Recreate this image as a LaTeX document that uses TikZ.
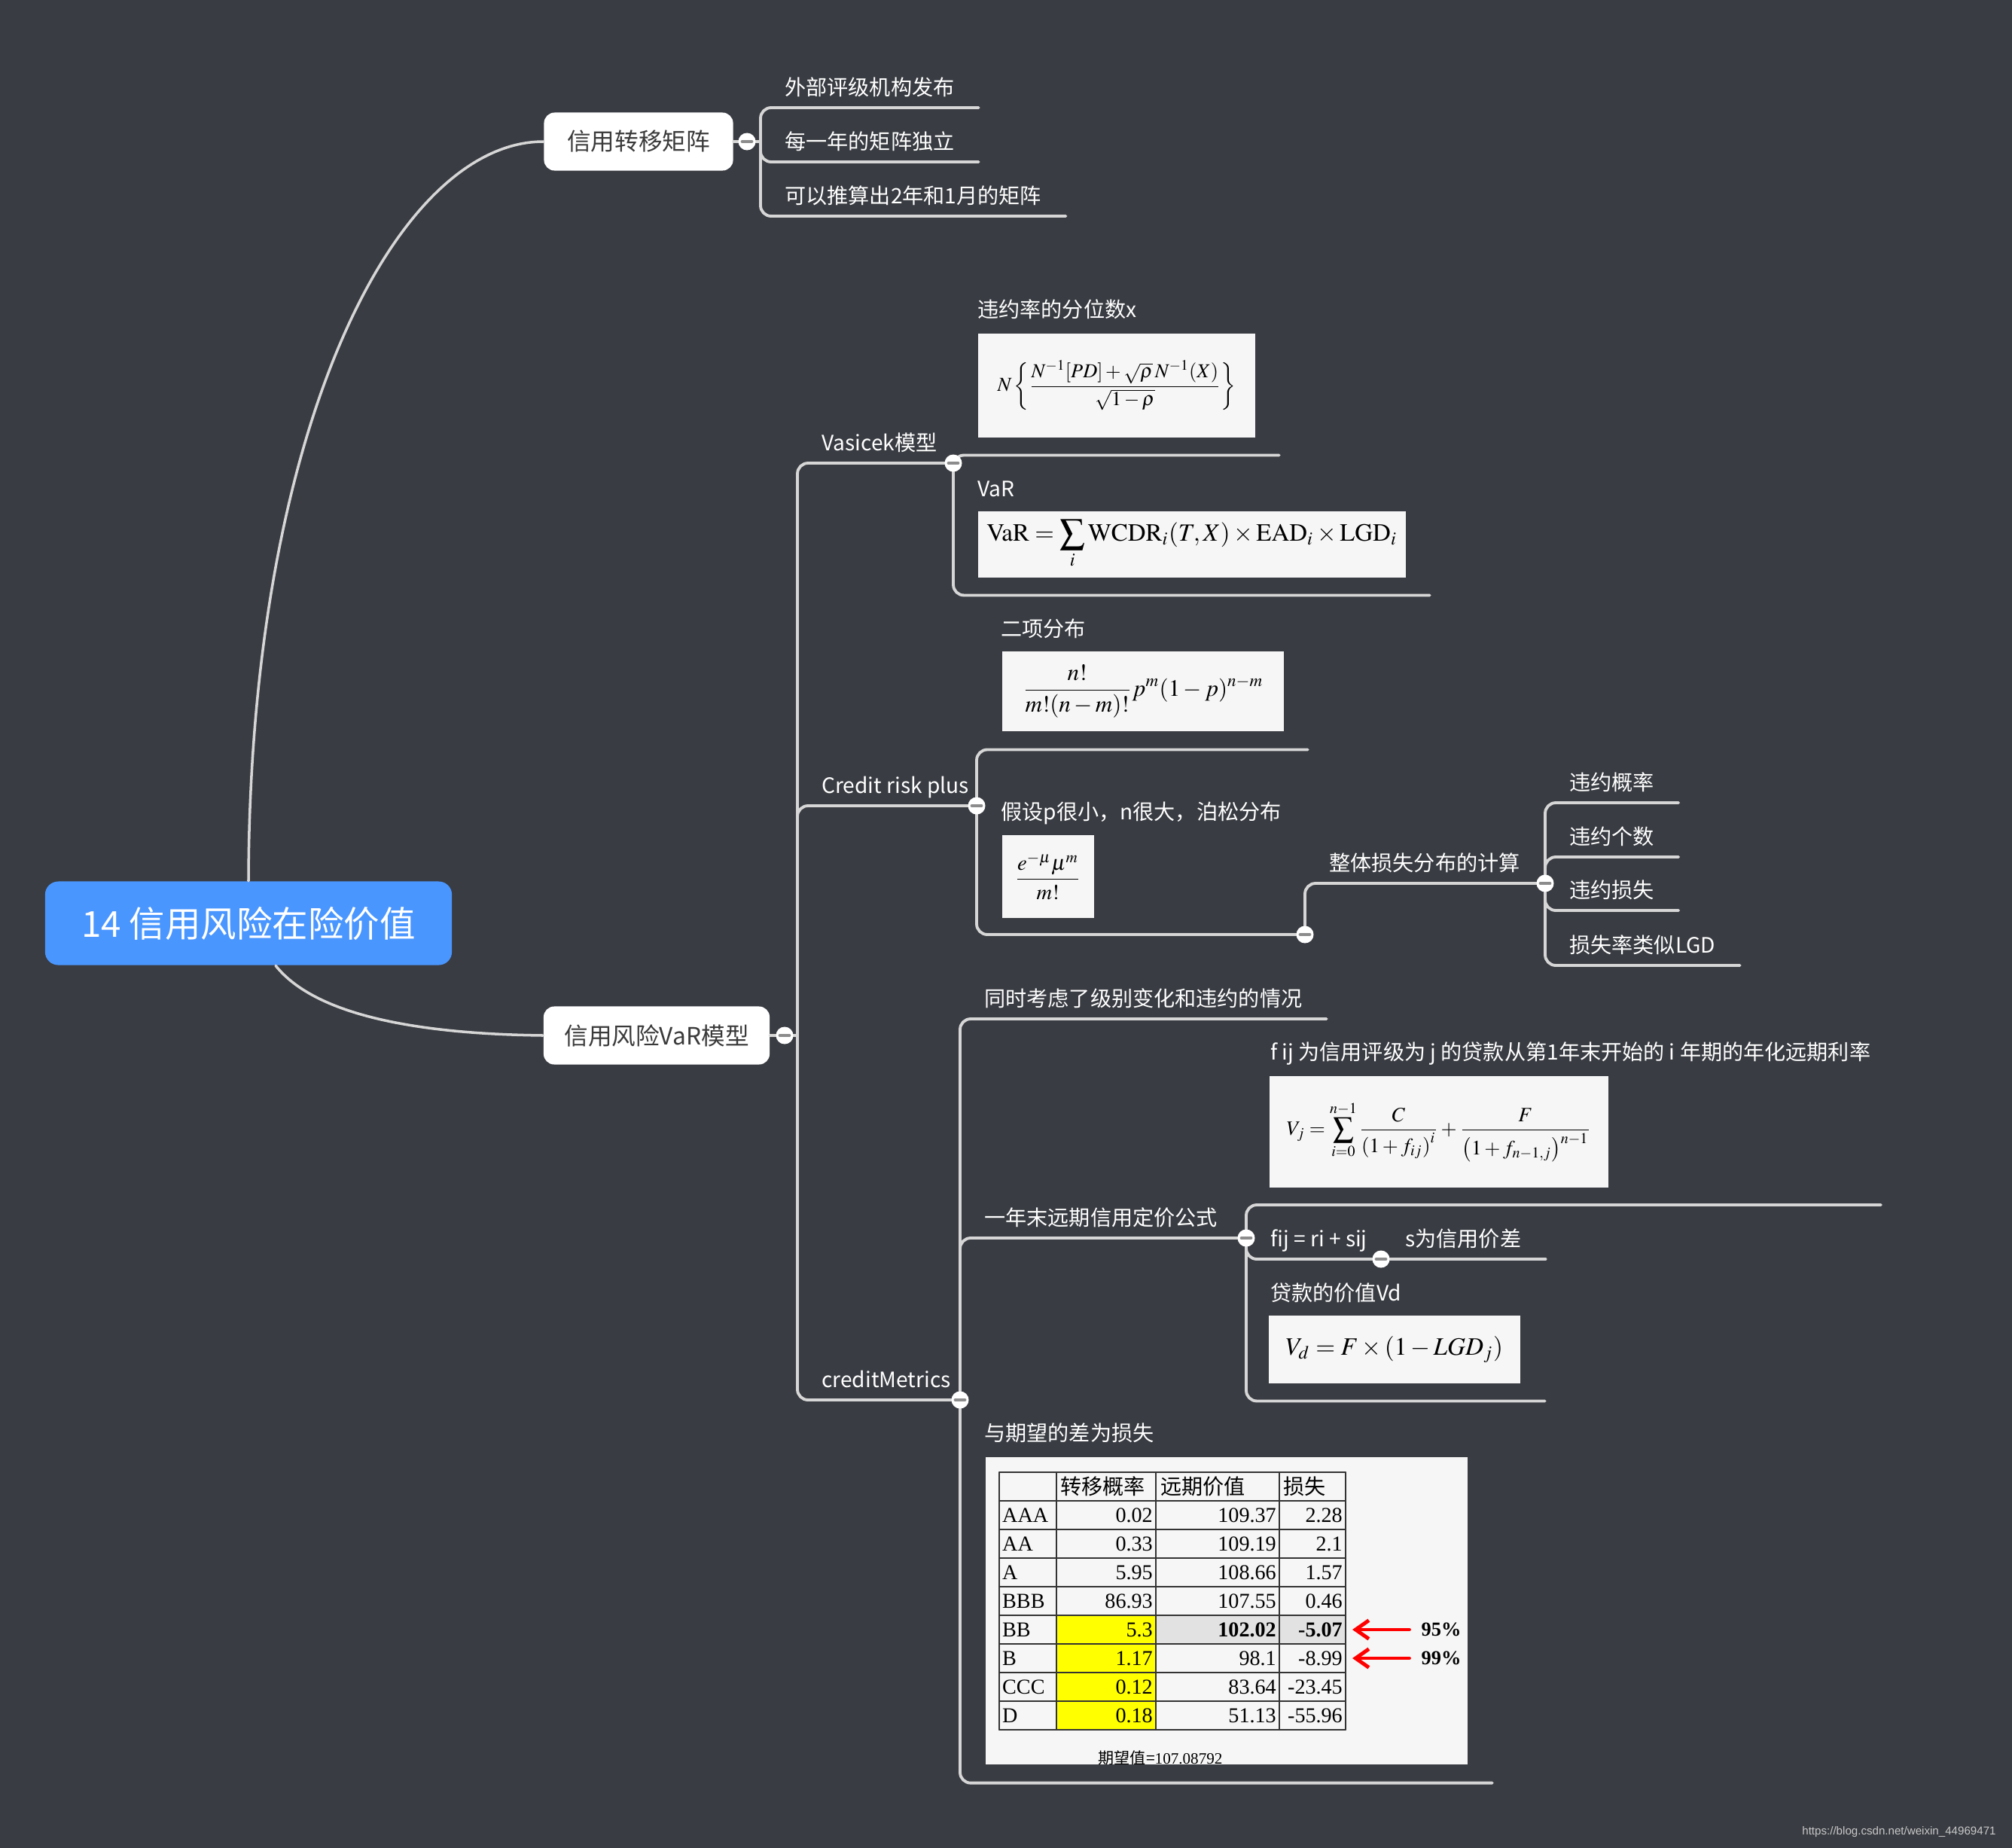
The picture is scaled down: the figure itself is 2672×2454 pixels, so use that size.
\documentclass[tikz,border=0pt]{standalone}
\usepackage{mathptmx}
\usepackage[no-math]{fontspec}
\usepackage{graphicx}
\setmainfont{Noto Sans CJK SC}
\newfontfamily\tabfont{Liberation Serif}
\newfontfamily\urlfont{Liberation Sans}
\usetikzlibrary{arrows.meta}
\definecolor{bgdark}{HTML}{393C42}
\definecolor{linegray}{HTML}{D6D6D6}
\definecolor{rootblue}{HTML}{4A96FF}
\definecolor{topictext}{HTML}{3A3A3A}
\definecolor{imgwhite}{HTML}{F6F6F6}
\definecolor{minusgray}{HTML}{8C8C8C}
\definecolor{cellyellow}{HTML}{FFFF00}
\definecolor{cellgray}{HTML}{E2E2E2}
\definecolor{wmgray}{HTML}{C8C8C8}
\begin{document}
\begin{tikzpicture}[x=0.01cm, y=-0.01cm, line join=round, line cap=round,
	conn/.style={draw=linegray, line width=1.1pt, rounded corners=4pt},
	curve/.style={draw=linegray, line width=1pt},
	root/.style={fill=rootblue, rounded corners=5pt, text=white, font=\fontsize{13.5}{16}\selectfont, minimum width=5.4cm, minimum height=1.11cm},
	topic/.style={fill=white, rounded corners=4pt, text=topictext, font=\fontsize{9}{11}\selectfont, minimum height=0.77cm},
	leaf/.style={anchor=south west, inner xsep=9pt, inner ysep=2pt, text depth=2.5pt, text=white, font=\fontsize{8}{10}\selectfont},
	fold/.style={circle, fill=white, inner sep=0pt, minimum size=0.23cm, path picture={\draw[minusgray, line width=1.2pt] ([xshift=-1.8pt]path picture bounding box.center) -- ([xshift=1.8pt]path picture bounding box.center);}},
	formula/.style={anchor=north west, fill=imgwhite, inner sep=0pt},
	cell/.style={font=\tabfont\fontsize{8}{9}\selectfont, inner sep=1pt},
	head/.style={font=\fontsize{8}{9}\selectfont, inner sep=1pt, anchor=west},
	pct/.style={font=\tabfont\bfseries\fontsize{7.5}{9}\selectfont, inner sep=1pt},
	redarrow/.style={red, line width=1.4pt, -{Straight Barb[length=5pt, width=7pt]}}]
	\fill[bgdark] (0,0) rectangle (2672,2454);
	\useasboundingbox (0,0) rectangle (2672,2454);
	
	% root and main topics
	\node[root] (root) at (330,1226) {14 信用风险在险价值};
	\node[topic, minimum width=2.51cm] (trans) at (848,188) {信用转移矩阵};
	\node[topic, minimum width=3cm] (model) at (872,1375) {信用风险VaR模型};
	\draw[curve] (root.north) .. controls (332,562) and (528,188) .. (trans.west);
	\draw[curve] ([xshift=0.36cm]root.south) .. controls (420,1350) and (560,1373) .. (model.west);
	
	% fold points
	\coordinate (fTrans) at (992,188);
	\coordinate (bTrans) at (1010,188);
	\coordinate (fModel) at (1042,1375);
	\coordinate (bModel) at (1059,1375);
	\coordinate (fVas) at (1266,615);
	\coordinate (fCrp) at (1297,1070);
	\coordinate (fPois) at (1733,1241);
	\coordinate (fLoss) at (2052,1173);
	\coordinate (fCm) at (1275,1859);
	\coordinate (fFwd) at (1655,1644);
	\coordinate (fFij) at (1834,1672);
	
	% transition matrix
	\node[leaf] (ext) at (1010,143) {外部评级机构发布};
	\node[leaf] (yearly) at (1010,215) {每一年的矩阵独立};
	\node[leaf] (derive) at (1010,287) {可以推算出2年和1月的矩阵};
	\draw[conn] (trans.east) -- (bTrans);
	\foreach \n in {ext,yearly,derive}
		\draw[conn] (bTrans) |- (\n.south east);
	
	% VaR model
	\draw[conn] (model.east) -- (bModel);
	\node[leaf] (vas) at (1059,615) {Vasicek模型};
	\node[leaf] (crp) at (1059,1070) {Credit risk plus};
	\node[leaf] (metrics) at (1059,1859) {creditMetrics};
	\foreach \f in {fVas,fCrp,fCm}
		\draw[conn] (bModel) |- (\f);
	
	% Vasicek
	\node[leaf] (pdq) at (1266,438) {违约率的分位数x};
	\node[formula, minimum width=3.68cm, minimum height=1.38cm] (pdf) at (1298,442)
		{\resizebox{90pt}{!}{$\displaystyle N\left\{\frac{N^{-1}[PD]+\sqrt{\rho}\,N^{-1}(X)}{\sqrt{1-\rho}}\right\}$}};
	\node[leaf] (var) at (1266,676) {VaR};
	\node[formula, minimum width=5.68cm, minimum height=0.88cm] (varf) at (1298,678)
		{\resizebox{155pt}{!}{$\displaystyle \mathrm{VaR}=\sum_{i}\mathrm{WCDR}_{i}(T,X)\times\mathrm{EAD}_{i}\times\mathrm{LGD}_{i}$}};
	\draw[conn] (fVas) |- ([shift={(31,23)}]pdf.south east);
	\draw[conn] (fVas) |- ([shift={(31,23)}]varf.south east);
	
	% Credit risk plus
	\node[leaf] (binom) at (1297,862) {二项分布};
	\node[formula, minimum width=3.74cm, minimum height=1.06cm] (binf) at (1330,864)
		{\resizebox{91pt}{!}{$\displaystyle\frac{n!}{m!(n-m)!}p^{m}(1-p)^{n-m}$}};
	\node[leaf] (pois) at (1297,1105) {假设p很小，n很大，泊松分布};
	\node[formula, minimum width=1.22cm, minimum height=1.1cm] (poisf) at (1330,1108)
		{\resizebox{25pt}{!}{$\displaystyle\frac{e^{-\mu}\mu^{m}}{m!}$}};
	\draw[conn] (fCrp) |- ([shift={(31,24)}]binf.south east);
	\draw[conn] (fCrp) |- (fPois);
	\node[leaf] (loss) at (1733,1173) {整体损失分布的计算};
	\draw[conn] (fPois) |- (fLoss);
	\node[leaf] (dprob) at (2052,1066) {违约概率};
	\node[leaf] (dnum) at (2052,1138) {违约个数};
	\node[leaf] (dloss) at (2052,1209) {违约损失};
	\node[leaf] (lgd) at (2052,1282) {损失率类似LGD};
	\foreach \n in {dprob,dnum,dloss,lgd}
		\draw[conn] (fLoss) |- (\n.south east);
	
	% creditMetrics
	\node[leaf] (both) at (1275,1353) {同时考虑了级别变化和违约的情况};
	\node[leaf] (fwd) at (1275,1644) {一年末远期信用定价公式};
	\node[leaf] (diff) at (1275,1930) {与期望的差为损失};
	\node[formula, minimum width=6.4cm, minimum height=4.08cm] (tab) at (1308,1934) {};
	\draw[conn] (fCm) |- (both.south east);
	\draw[conn] (fCm) |- (fFwd);
	\draw[conn] (fCm) |- ([shift={(32,24)}]tab.south east);
	
	% forward pricing
	\node[leaf] (fij) at (1655,1424) {f ij 为信用评级为 j 的贷款从第1年末开始的 i 年期的年化远期利率};
	\node[formula, minimum width=4.5cm, minimum height=1.48cm] (vjf) at (1685,1428)
		{\resizebox{115pt}{!}{$\displaystyle V_j=\sum_{i=0}^{n-1}\frac{C}{\left(1+f_{ij}\right)^{i}}+\frac{F}{\left(1+f_{n-1,j}\right)^{n-1}}$}};
	\coordinate (fijEnd) at (2498,1600);
	\node[leaf] (fijeq) at (1655,1672) {fij = ri + sij};
	\node[leaf] (spread) at (1834,1672) {s为信用价差};
	\node[leaf] (vd) at (1655,1744) {贷款的价值Vd};
	\node[formula, minimum width=3.34cm, minimum height=0.9cm] (vdf) at (1684,1746)
		{\resizebox{82pt}{!}{$\displaystyle V_d=F\times\left(1-LGD_j\right)$}};
	\draw[conn] (fFwd) |- (fijEnd);
	\draw[conn] (fFwd) |- (fFij);
	\draw[conn] (fFij) -- (spread.south east);
	\draw[conn] (fFwd) |- ([shift={(32,23)}]vdf.south east);
	
	% loss table
	\fill[cellyellow] (1403,2145) rectangle (1535,2297);
	\fill[cellgray] (1535,2145) rectangle (1787,2183);
	\foreach \yy in {1955,1993,...,2297}
		\draw[line width=0.5pt, black!80] (1327,\yy) -- (1787,\yy);
	\foreach \xx in {1327,1403,1535,1699,1787}
		\draw[line width=0.5pt, black!80] (\xx,1955) -- (\xx,2297);
	\node[head] (hp) at (1404,1974) {转移概率};
	\node[head] (hv) at (1537,1974) {远期价值};
	\node[head] (hl) at (1700,1974) {损失};
	\foreach \g/\p/\v/\l [count=\i] in {AAA/0.02/109.37/2.28, AA/0.33/109.19/2.1, A/5.95/108.66/1.57, BBB/86.93/107.55/0.46, BB/5.3/\textbf{102.02}/\textbf{-5.07}, B/1.17/98.1/-8.99, CCC/0.12/83.64/-23.45, D/0.18/51.13/-55.96}{
		\node[cell, anchor=west] (g\i) at (1327,1974+38*\i) {\g};
		\node[cell, anchor=east] (p\i) at (1535,1974+38*\i) {\p};
		\node[cell, anchor=east] (v\i) at (1699,1974+38*\i) {\v};
		\node[cell, anchor=east] (l\i) at (1787,1974+38*\i) {\l};
	}
	\node[pct] (p95) at (1914,2164) {95\%};
	\node[pct] (p99) at (1914,2202) {99\%};
	\draw[redarrow] ([xshift=-0.12cm]p95.west) -- ([xshift=0.09cm]l5.east);
	\draw[redarrow] ([xshift=-0.12cm]p99.west) -- ([xshift=0.09cm]l6.east);
	\begin{scope}
		\clip (1308,1934) rectangle (1948,2342);
		\node[font=\fontsize{6}{7}\selectfont, anchor=west, inner sep=0pt] (mean) at (1458,2334) {期望值={\tabfont 107.08792}};
	\end{scope}
	
	% fold buttons
	\foreach \f in {fTrans,fModel,fVas,fCrp,fPois,fLoss,fCm,fFwd,fFij}
		\node[fold] (k\f) at (\f) {};
	
	\node[anchor=east, text=wmgray, font=\urlfont\fontsize{4.3}{5}\selectfont] (wm) at (2663,2433) {https://blog.csdn.net/weixin\_44969471};
\end{tikzpicture}
\end{document}
